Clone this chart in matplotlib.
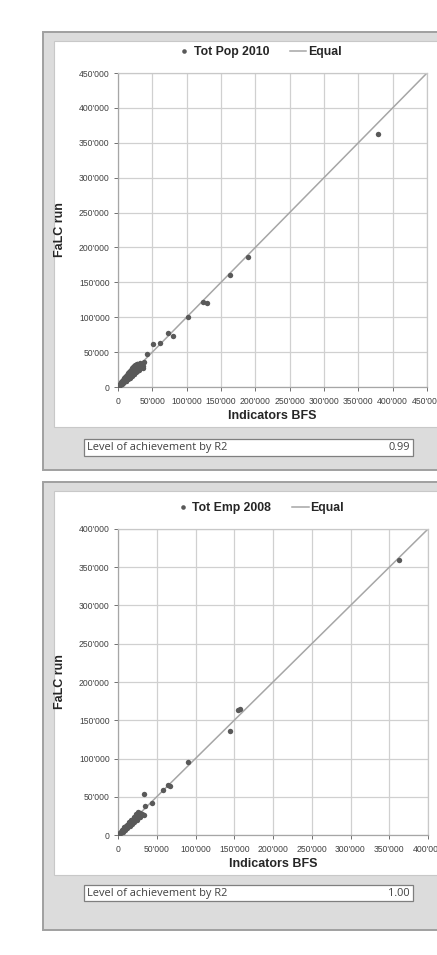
import matplotlib
matplotlib.use("Agg")
import matplotlib.pyplot as plt
from matplotlib.patches import Rectangle
from matplotlib.lines import Line2D
from matplotlib.ticker import FuncFormatter, MultipleLocator

plt.rcParams['font.family'] = ['Liberation Sans', 'DejaVu Sans']

# --- data: Tot Pop 2010 (x = Indicators BFS, y = FaLC run)
pop_bfs = [300, 800, 1500, 2100, 2800, 3400, 4000, 4600, 5200, 5900, 6500, 7100,
           7800, 8400, 9000, 9700, 10300, 11000, 11600, 12300, 13000, 13800, 14500,
           15300, 16000, 17000, 18000, 19000, 20000, 21000, 22000, 23000, 24500,
           26000, 27500, 29000, 31000, 33000, 35000, 38000,
           6000, 9000, 12000, 15000, 18000, 21000, 24000, 27000,
           11000, 14000, 17000, 20000, 23000, 26000, 30000, 34000,
           4000, 7000, 10000, 13000, 16000, 19000, 22000, 25000, 28000, 32000,
           8000, 12000, 16000, 20000, 24000, 28000, 36000, 37000,
           42000, 51000, 61000, 73000, 80000, 102000, 124000, 130000,
           163000, 190000, 378000]
pop_falc = [400, 1000, 1300, 2400, 2500, 3700, 3600, 5100, 4700, 6400, 6000, 7800,
            7200, 9200, 8300, 10500, 9600, 12000, 10800, 13500, 12000, 15000, 13500,
            16500, 15000, 18500, 17000, 20500, 19000, 22500, 21000, 24500, 23000,
            29000, 25500, 32000, 28000, 31000, 33000, 36000,
            8500, 12500, 16000, 19500, 23000, 27000, 30500, 33000,
            8000, 11000, 13500, 16500, 19000, 21500, 25000, 28000,
            6500, 10000, 14000, 17500, 21000, 24500, 28000, 31000, 33000, 34000,
            5500, 9000, 12500, 15500, 19000, 22500, 30000, 27000,
            47000, 61000, 63000, 77000, 73000, 100000, 122000, 120000,
            160500, 187000, 362000]

# --- data: Tot Emp 2008
emp_bfs = [200, 600, 1100, 1600, 2200, 2800, 3400, 4000, 4700, 5400, 6100, 6800,
           7500, 8300, 9100, 9900, 10700, 11500, 12400, 13300, 14200, 15200, 16200,
           17300, 18400, 19500, 20700, 22000, 23300, 24600, 26000, 27500, 29000,
           31000, 33000,
           5000, 8000, 11000, 14000, 17000, 20000, 23000, 26000, 29000,
           3000, 6000, 9000, 12000, 15000, 18000, 21000, 24000, 27000, 30000,
           35000, 34000, 44000, 58000, 64500, 67000, 90000, 144500, 155000, 157000,
           362500]
emp_falc = [300, 500, 1300, 1400, 2500, 2600, 3800, 3700, 5200, 5000, 6800, 6300,
            8300, 7800, 10000, 9300, 11800, 10800, 13600, 12500, 15500, 14300, 17500,
            16300, 19800, 18500, 22000, 21000, 24500, 23500, 27000, 26000, 28500,
            27500, 26000,
            6500, 10000, 13500, 17000, 20000, 23500, 27000, 29500, 24000,
            2000, 4500, 7000, 9500, 12000, 14500, 17500, 20000, 23000, 26500,
            38000, 53500, 42000, 59000, 65000, 64000, 95000, 136000, 163000, 165000,
            359000]

pop_lim = 450000
emp_lim = 400000
r2_pop = "0.99"
r2_emp = "1.00"

W, H = 437, 955


def fx(x):
    return x / W


def fy(y):
    return 1 - y / H


def fmt(v, _):
    if v == 0:
        return "0"
    return f"{int(v):,}".replace(",", "'")


fig = plt.figure(figsize=(W / 100, H / 100), dpi=100)
fig.patch.set_facecolor('white')


def panel(top, bottom, inner_bottom, r2_top, r2_bot, value):
    # outer grey frame
    fig.patches.append(Rectangle((fx(43), fy(bottom)), fx(W + 10) - fx(43), fy(top) - fy(bottom),
                                 transform=fig.transFigure, facecolor='#dcdcdc',
                                 edgecolor='#a0a0a0', linewidth=1.4, zorder=-3))
    # inner white chart area
    fig.patches.append(Rectangle((fx(54), fy(inner_bottom)), fx(W + 10) - fx(54),
                                 fy(top + 9) - fy(inner_bottom),
                                 transform=fig.transFigure, facecolor='white',
                                 edgecolor='#c8c8c8', linewidth=0.8, zorder=-2))
    # R2 box
    fig.patches.append(Rectangle((fx(84), fy(r2_bot)), fx(413) - fx(84), fy(r2_top) - fy(r2_bot),
                                 transform=fig.transFigure, facecolor='white',
                                 edgecolor='#7f7f7f', linewidth=0.9, zorder=-2))
    ymid = fy((r2_top + r2_bot) / 2)
    fig.text(fx(87), ymid, "Level of achievement by R2", fontsize=7.9, color='#404040',
             family=['Open Sans', 'DejaVu Sans'], va='center', ha='left')
    fig.text(fx(410), ymid, value, fontsize=7.9, color='#404040',
             family=['Open Sans', 'DejaVu Sans'], va='center', ha='right')


def scatter_axes(left, right, top, bottom, xs, ys, lim, label):
    ax = fig.add_axes([fx(left), fy(bottom), fx(right) - fx(left), fy(top) - fy(bottom)])
    ax.set_facecolor('none')
    ax.plot([0, lim], [0, lim], color='#a6a6a6', linewidth=1.1, zorder=2)
    ax.plot(xs, ys, 'o', color='#595959', markersize=3.9, markeredgewidth=0, zorder=3)
    ax.set_xlim(0, lim)
    ax.set_ylim(0, lim)
    ax.xaxis.set_major_locator(MultipleLocator(50000))
    ax.yaxis.set_major_locator(MultipleLocator(50000))
    ax.xaxis.set_major_formatter(FuncFormatter(fmt))
    ax.yaxis.set_major_formatter(FuncFormatter(fmt))
    ax.grid(True, color='#d0d0d0', linewidth=0.9)
    ax.set_axisbelow(True)
    for s in ax.spines.values():
        s.set_color('#c8c8c8')
        s.set_linewidth(0.9)
    ax.spines['left'].set_color('#a6a6a6')
    ax.spines['bottom'].set_color('#a6a6a6')
    ax.tick_params(axis='both', labelsize=6.2, colors='#595959', length=3, width=0.6,
                   pad=3, labelcolor='#404040')
    ax.tick_params(axis='x', pad=4)
    ax.set_xlabel("Indicators BFS", fontsize=9, fontweight='bold', color='#262626', labelpad=3)
    ax.set_ylabel("FaLC run", fontsize=9, fontweight='bold', color='#262626', labelpad=9)
    handles = [Line2D([], [], marker='o', ls='none', color='#595959', markersize=3.3,
                      markeredgewidth=0, label=label),
               Line2D([], [], color='#a6a6a6', linewidth=1.1, label='Equal')]
    leg = ax.legend(handles=handles, ncol=2, loc='lower center', bbox_to_anchor=(0.455, 1.02),
                    frameon=False, fontsize=8.8, handlelength=1.35, handletextpad=0.1,
                    columnspacing=1.7, borderaxespad=0.3)
    for t in leg.get_texts():
        t.set_fontweight('bold')
        t.set_color('#262626')
    return ax


panel(32, 470, 427, 439, 456, r2_pop)
panel(482, 930, 875, 885, 901, r2_emp)

scatter_axes(118, 427, 73, 387, pop_bfs, pop_falc, pop_lim, "Tot Pop 2010")
scatter_axes(118, 428, 529, 835, emp_bfs, emp_falc, emp_lim, "Tot Emp 2008")

fig.savefig("out.png", dpi=100)
